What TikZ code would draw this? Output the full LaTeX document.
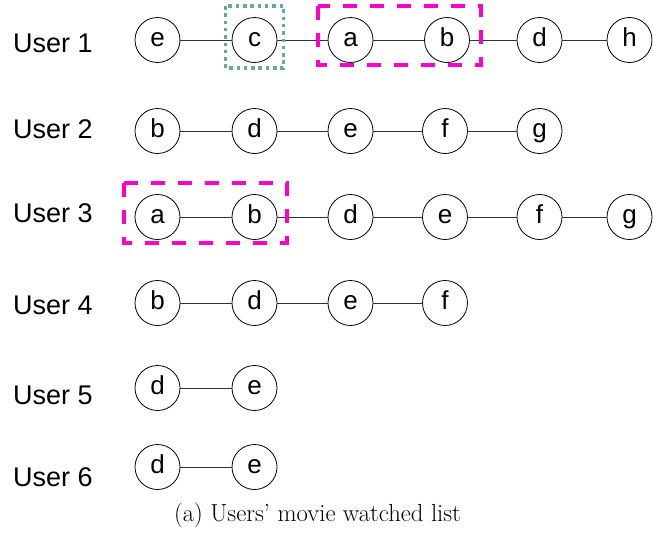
\documentclass[tikz,border=0pt]{standalone}
\usepackage{fontspec}
\newfontfamily\arial{Liberation Sans}
\definecolor{mag}{RGB}{255,0,200}
\definecolor{tealdot}{RGB}{102,170,153}
\begin{document}
\begin{tikzpicture}[x=1pt,y=-1pt,
 item/.style={circle,draw,line width=0.8pt,minimum size=45pt,inner sep=0pt,
   font=\arial\fontsize{26}{30}\selectfont,text height=13.5pt,text depth=0pt},
 user/.style={anchor=west,font=\arial\fontsize{27}{32}\selectfont,inner sep=0pt},
 link/.style={draw=black!80,line width=0.8pt},
 selbox/.style={draw=mag,line width=3.5pt,dash pattern=on 14pt off 13pt},
 dotbox/.style={draw=tealdot,line width=3.5pt,dash pattern=on 3.5pt off 3.8pt},
 captext/.style={font=\fontsize{24.7}{28}\selectfont,inner sep=0pt}]
\useasboundingbox (0,0) rectangle (653,533);
% labels
\node[user] (u1) at (13,43) {User 1};
\node[user] (u2) at (13,129) {User 2};
\node[user] (u3) at (13,213) {User 3};
\node[user] (u4) at (13,305) {User 4};
\node[user] (u5) at (13,395) {User 5};
\node[user] (u6) at (13,477) {User 6};
% row 1
\node[item] (r1e) at (157.5,40) {e};
\node[item] (r1c) at (254.5,40) {c};
\node[item] (r1a) at (350.5,40) {a};
\node[item] (r1b) at (447,40) {b};
\node[item] (r1d) at (539.5,40) {d};
\node[item] (r1h) at (629.5,40) {h};
\draw[link] (r1e)--(r1c) (r1c)--(r1a) (r1a)--(r1b) (r1b)--(r1d) (r1d)--(r1h);
% row 2
\node[item] (r2b) at (157.5,131) {b};
\node[item] (r2d) at (254.5,131) {d};
\node[item] (r2e) at (350.5,131) {e};
\node[item] (r2f) at (445,131) {f};
\node[item] (r2g) at (539.5,131) {g};
\draw[link] (r2b)--(r2d) (r2d)--(r2e) (r2e)--(r2f) (r2f)--(r2g);
% row 3
\node[item] (r3a) at (157.5,217) {a};
\node[item] (r3b) at (254.5,217) {b};
\node[item] (r3d) at (350.5,217) {d};
\node[item] (r3e) at (445,217) {e};
\node[item] (r3f) at (539.5,217) {f};
\node[item] (r3g) at (629.5,217) {g};
\draw[link] (r3a)--(r3b) (r3b)--(r3d) (r3d)--(r3e) (r3e)--(r3f) (r3f)--(r3g);
% row 4
\node[item] (r4b) at (157.5,303) {b};
\node[item] (r4d) at (254.5,303) {d};
\node[item] (r4e) at (350.5,303) {e};
\node[item] (r4f) at (445,303) {f};
\draw[link] (r4b)--(r4d) (r4d)--(r4e) (r4e)--(r4f);
% row 5
\node[item] (r5d) at (157.5,388) {d};
\node[item] (r5e) at (254.5,388) {e};
\draw[link] (r5d)--(r5e);
% row 6
\node[item] (r6d) at (157.5,467) {d};
\node[item] (r6e) at (254.5,467) {e};
\draw[link] (r6d)--(r6e);
% highlight boxes
\draw[dotbox] (225.5,6) rectangle (283.5,68);
\draw[selbox] (318,6) rectangle (481,65);
\draw[selbox] (124,183) rectangle (287,243);
% caption
\node[captext] (caption) at (317.5,515) {(a) Users' movie watched list};
\end{tikzpicture}
\end{document}
